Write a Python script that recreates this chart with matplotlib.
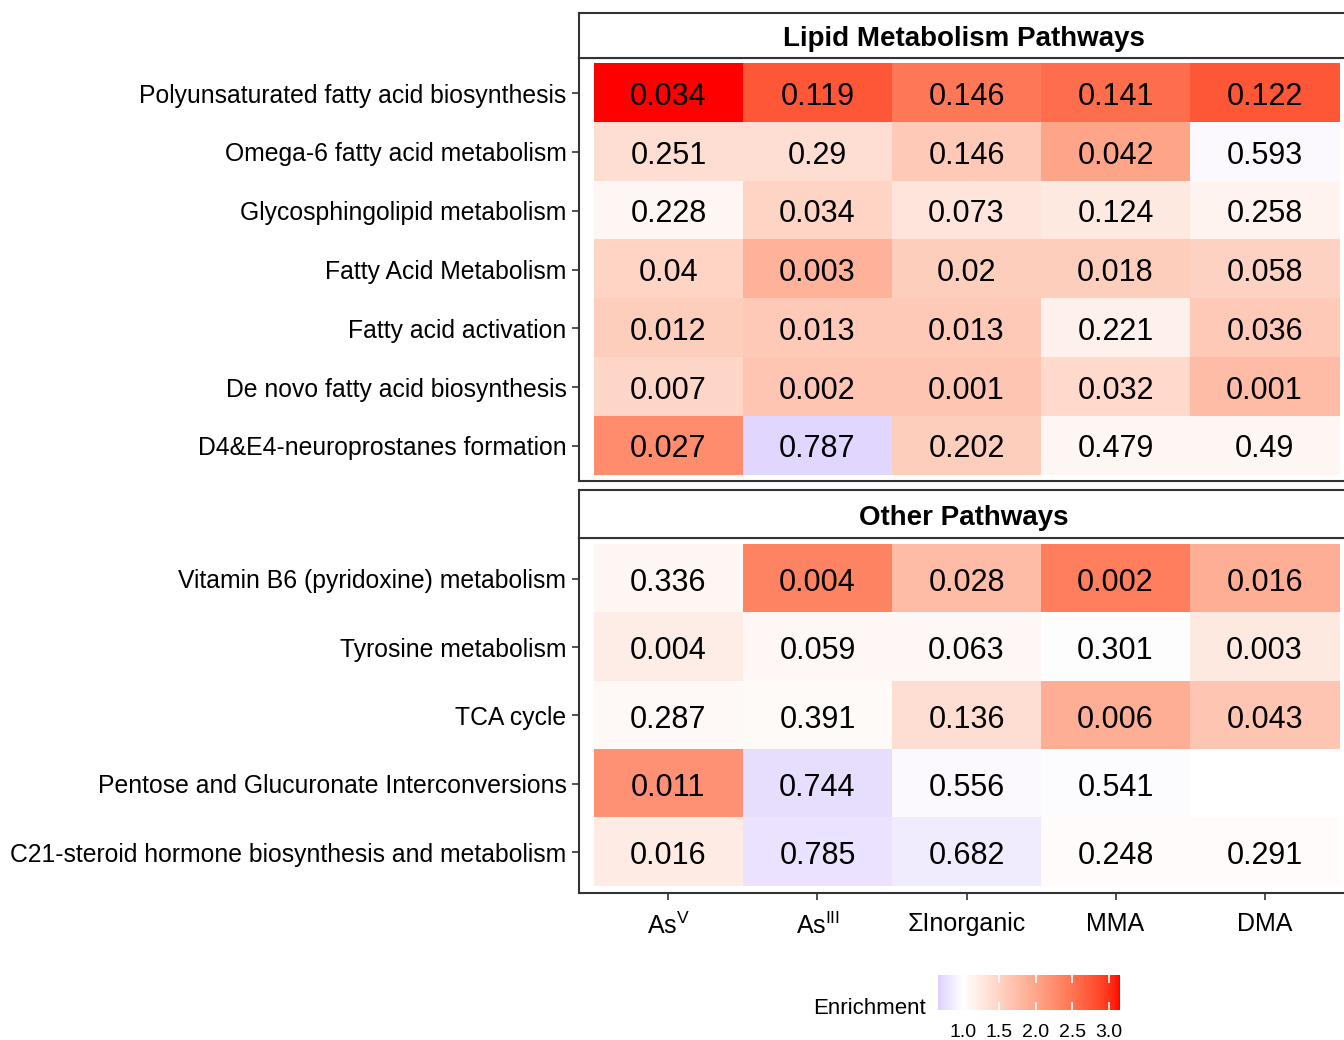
import numpy as np
import matplotlib
matplotlib.use("Agg")
from matplotlib import pyplot as plt
from matplotlib.colors import ListedColormap, Normalize, to_rgb

plt.rcParams['font.family'] = ['Liberation Sans', 'DejaVu Sans']
plt.rcParams['mathtext.fontset'] = 'custom'
plt.rcParams['mathtext.rm'] = 'Liberation Sans'

groups = [r'As$^{\mathrm{V}}$', r'As$^{\mathrm{III}}$', 'ΣInorganic', 'MMA', 'DMA']

lipid_paths = ["Polyunsaturated fatty acid biosynthesis",
               "Omega-6 fatty acid metabolism",
               "Glycosphingolipid metabolism",
               "Fatty Acid Metabolism",
               "Fatty acid activation",
               "De novo fatty acid biosynthesis",
               "D4&E4-neuroprostanes formation"]
lipid_p = [["0.034", "0.119", "0.146", "0.141", "0.122"],
           ["0.251", "0.29", "0.146", "0.042", "0.593"],
           ["0.228", "0.034", "0.073", "0.124", "0.258"],
           ["0.04", "0.003", "0.02", "0.018", "0.058"],
           ["0.012", "0.013", "0.013", "0.221", "0.036"],
           ["0.007", "0.002", "0.001", "0.032", "0.001"],
           ["0.027", "0.787", "0.202", "0.479", "0.49"]]
lipid_enrich = [[3.15, 2.75, 2.45, 2.55, 2.75],
                [1.37, 1.37, 1.60, 2.00, 0.97],
                [1.10, 1.48, 1.30, 1.25, 1.13],
                [1.48, 1.85, 1.55, 1.55, 1.50],
                [1.55, 1.60, 1.60, 1.15, 1.60],
                [1.45, 1.65, 1.65, 1.42, 1.75],
                [2.25, 0.70, 1.55, 1.10, 1.10]]

other_paths = ["Vitamin B6 (pyridoxine) metabolism",
               "Tyrosine metabolism",
               "TCA cycle",
               "Pentose and Glucuronate Interconversions",
               "C21-steroid hormone biosynthesis and metabolism"]
other_p = [["0.336", "0.004", "0.028", "0.002", "0.016"],
           ["0.004", "0.059", "0.063", "0.301", "0.003"],
           ["0.287", "0.391", "0.136", "0.006", "0.043"],
           ["0.011", "0.744", "0.556", "0.541", ""],
           ["0.016", "0.785", "0.682", "0.248", "0.291"]]
other_enrich = [[1.10, 2.35, 1.75, 2.40, 1.90],
                [1.20, 1.08, 1.08, 1.00, 1.25],
                [1.07, 1.05, 1.37, 1.90, 1.65],
                [2.20, 0.76, 0.97, 0.98, np.nan],
                [1.22, 0.79, 0.86, 1.04, 1.04]]

vmin, vmax = 0.66, 3.15


# ggplot style gradient: interpolate in Lab space
def srgb_to_lab(rgb):
    c = np.asarray(rgb, dtype=float)
    lin = np.where(c <= 0.04045, c / 12.92, ((c + 0.055) / 1.055) ** 2.4)
    M = np.array([[0.4124, 0.3576, 0.1805],
                  [0.2126, 0.7152, 0.0722],
                  [0.0193, 0.1192, 0.9505]])
    xyz = M @ lin / np.array([0.95047, 1.0, 1.08883])
    f = np.where(xyz > 0.008856, np.cbrt(xyz), 7.787 * xyz + 16 / 116)
    return np.array([116 * f[1] - 16, 500 * (f[0] - f[1]), 200 * (f[1] - f[2])])


def lab_to_srgb(lab):
    L, a, b = lab
    fy = (L + 16) / 116
    fx = fy + a / 500
    fz = fy - b / 200
    f = np.array([fx, fy, fz])
    xyz = np.where(f ** 3 > 0.008856, f ** 3, (f - 16 / 116) / 7.787)
    xyz = xyz * np.array([0.95047, 1.0, 1.08883])
    Mi = np.array([[3.2406, -1.5372, -0.4986],
                   [-0.9689, 1.8758, 0.0415],
                   [0.0557, -0.2040, 1.0570]])
    lin = Mi @ xyz
    lin = np.clip(lin, 0, 1)
    c = np.where(lin <= 0.0031308, 12.92 * lin, 1.055 * lin ** (1 / 2.4) - 0.055)
    return np.clip(c, 0, 1)


low = srgb_to_lab(to_rgb("#ded1ff"))
white = srgb_to_lab(to_rgb("#ffffff"))
high = srgb_to_lab(to_rgb("#ff0000"))
vals = np.linspace(vmin, vmax, 256)
cols = []
for v in vals:
    if v < 1:
        t = (1 - v) / (1 - vmin)
        cols.append(lab_to_srgb(white + t * (low - white)))
    else:
        t = (v - 1) / (vmax - 1)
        cols.append(lab_to_srgb(white + t * (high - white)))
cmap = ListedColormap(cols)
cmap.set_bad("white")
norm = Normalize(vmin, vmax)

fig = plt.figure(figsize=(13.44, 10.40), dpi=100)

W = 1344.0
H = 1040.0
left = 579 / W
width = 775 / W


def panel(bottom_px, top_px, strip_top_px, title, paths, pvals, enrich, show_x):
    ax = fig.add_axes([left, 1 - bottom_px / H, width, (bottom_px - top_px) / H])
    data = np.array(enrich, dtype=float)
    n = len(paths)
    ax.imshow(np.ma.masked_invalid(data), cmap=cmap, norm=norm, aspect="auto",
              extent=(-0.5, 4.5, n - 0.5, -0.5), interpolation="nearest")
    for i in range(n):
        for j in range(5):
            if pvals[i][j]:
                ax.text(j, i + 0.06, pvals[i][j], ha="center", va="center", fontsize=22)
    ax.set_xlim(-0.6, 4.6)
    ax.set_ylim(n - 0.4, -0.6)
    ax.set_yticks(range(n))
    ax.set_yticklabels(paths, fontsize=17.8)
    ax.set_xticks(range(5))
    ax.tick_params(color="#333333", length=5, width=1.2, pad=4)
    if show_x:
        ax.set_xticklabels(groups, fontsize=18)
        ax.tick_params(axis="x", pad=9)
    else:
        ax.tick_params(axis="x", length=0, labelbottom=False)
    for s in ax.spines.values():
        s.set_color("#333333")
        s.set_linewidth(1.5)

    sax = fig.add_axes([left, 1 - top_px / H, width, (top_px - strip_top_px) / H])
    sax.set_xticks([])
    sax.set_yticks([])
    for s in sax.spines.values():
        s.set_color("#333333")
        s.set_linewidth(1.5)
    sax.text(0.497, 0.42, title, transform=sax.transAxes, ha="center", va="center",
             fontsize=20, fontweight="bold")
    return ax


panel(481, 58, 13, "Lipid Metabolism Pathways", lipid_paths, lipid_p, lipid_enrich, False)
panel(893, 538, 490, "Other Pathways", other_paths, other_p, other_enrich, True)

# colour bar legend
cax = fig.add_axes([938 / W, 1 - 1010 / H, 182 / W, 35 / H])
sm = plt.cm.ScalarMappable(norm=norm, cmap=cmap)
cb = fig.colorbar(sm, cax=cax, orientation="horizontal", ticks=[1.0, 1.5, 2.0, 2.5, 3.0])
cb.outline.set_visible(False)
cb.ax.set_xticklabels(["1.0", "1.5", "2.0", "2.5", "3.0"])
cax.tick_params(axis="x", direction="in", length=6, width=1.2, color="white",
                top=True, bottom=True, labelsize=14, pad=10)
fig.text(926 / W, 1 - 1008 / H, "Enrichment", ha="right", va="center", fontsize=16)

fig.savefig("out.png", dpi=100)
